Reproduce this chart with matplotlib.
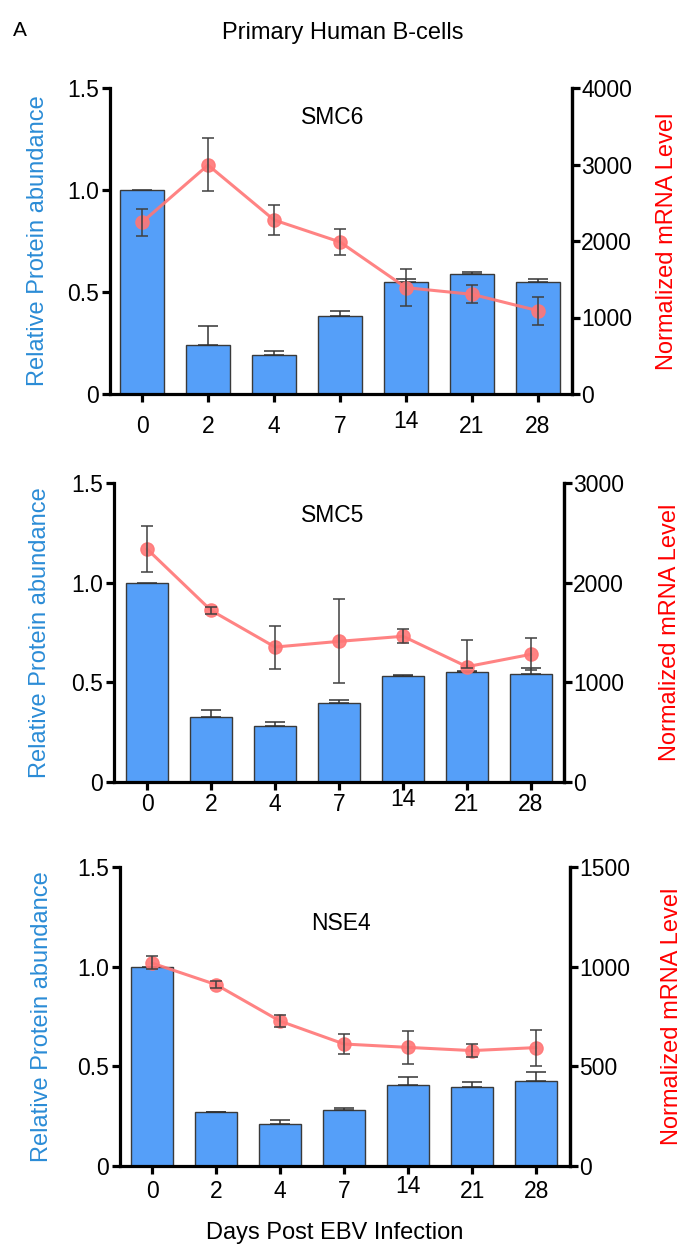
import matplotlib
matplotlib.use("Agg")
import matplotlib.pyplot as plt
import matplotlib.transforms as mtransforms
import numpy as np

plt.rcParams['font.family'] = ['Liberation Sans', 'DejaVu Sans']

days = ["0", "2", "4", "7", "14", "21", "28"]

# SMC6
smc6_protein = [1.0, 0.24, 0.19, 0.382, 0.549, 0.587, 0.551]
smc6_protein_err = [np.nan, 0.093, 0.02, 0.025, 0.013, 0.01, 0.011]
smc6_mrna = [2244, 2993, 2275, 1987, 1390, 1303, 1089]
smc6_mrna_lo = [2070, 2654, 2078, 1813, 1146, 1189, 902]
smc6_mrna_hi = [2423, 3342, 2471, 2161, 1630, 1420, 1268]

# SMC5
smc5_protein = [1.0, 0.325, 0.283, 0.398, 0.533, 0.553, 0.543]
smc5_protein_err = [np.nan, 0.035, 0.02, 0.015, 0.005, 0.002, 0.029]
smc5_mrna = [2338, 1722, 1354, 1411, 1462, 1157, 1281]
smc5_mrna_lo = [2110, 1689, 1134, 990, 1391, 1140, 1124]
smc5_mrna_hi = [2572, 1753, 1568, 1839, 1535, 1422, 1448]

# NSE4
nse4_protein = [1.0, 0.269, 0.211, 0.281, 0.406, 0.398, 0.425]
nse4_protein_err = [np.nan, 0.003, 0.02, 0.008, 0.039, 0.022, 0.045]
nse4_mrna = [1018, 910, 727, 612, 595, 579, 594]
nse4_mrna_lo = [990, 893, 699, 562, 512, 545, 503]
nse4_mrna_hi = [1055, 927, 756, 664, 679, 612, 682]

names = ["SMC6", "SMC5", "NSE4"]
proteins = [smc6_protein, smc5_protein, nse4_protein]
protein_errs = [smc6_protein_err, smc5_protein_err, nse4_protein_err]
mrnas = [smc6_mrna, smc5_mrna, nse4_mrna]
mrna_los = [smc6_mrna_lo, smc5_mrna_lo, nse4_mrna_lo]
mrna_his = [smc6_mrna_hi, smc5_mrna_hi, nse4_mrna_hi]
mrna_max = [4000, 3000, 1500]
mrna_step = [1000, 1000, 500]

W, H = 687, 1260
fig = plt.figure(figsize=(W / 100, H / 100), dpi=100)

# (left, right, top, bottom) in pixels
boxes = [(110, 572, 88, 394), (114, 564, 483, 782), (120, 570, 867, 1166)]
xlims = [(-0.485, 6.515), (-0.516, 6.516), (-0.5, 6.53)]
xpads = [9.0, 2.0, 4.3]
title_pos = [(333, 118), (333, 515), (341, 923)]
left_lab_x = [38, 40, 42]
right_lab_x = [667, 670, 672]

bar_color = '#559ff9'
line_color = '#ff7676'
blue_lab = '#2b8cd6'
spine_w = 2.3

for i in range(3):
    l, r, t, b = boxes[i]
    ax = fig.add_axes([l / W, 1 - b / H, (r - l) / W, (b - t) / H])
    x = np.arange(len(days))
    ax.bar(x, proteins[i], width=0.66, color=bar_color, edgecolor='#3a3a3a',
           linewidth=1.0, zorder=2)
    perr = np.array(protein_errs[i], dtype=float)
    ax.errorbar(x, proteins[i], yerr=[np.zeros(len(x)), perr], fmt='none',
                ecolor='#333333', elinewidth=1.1, capsize=7.5, capthick=1.1, zorder=3)
    ax.set_xlim(*xlims[i])
    ax.set_ylim(0, 1.5)
    ax.set_yticks([0, 0.5, 1.0, 1.5])
    ax.set_yticklabels(["0", "0.5", "1.0", "1.5"])
    ax.set_xticks(x)
    ax.set_xticklabels(days)
    ax.spines['top'].set_visible(False)
    for s in ['left', 'bottom', 'right']:
        ax.spines[s].set_linewidth(spine_w)
    ax.tick_params(axis='y', length=6, width=spine_w, labelsize=16.5, pad=2)
    ax.tick_params(axis='x', length=6, width=spine_w, labelsize=16.5, pad=xpads[i])
    for lab in ax.get_xticklabels():
        if lab.get_text() == "14":
            lab.set_transform(lab.get_transform() +
                              mtransforms.ScaledTranslation(0, 5 / 100, fig.dpi_scale_trans))

    ax2 = ax.twinx()
    m = np.array(mrnas[i], dtype=float)
    lo = m - np.array(mrna_los[i])
    hi = np.array(mrna_his[i]) - m
    ax2.plot(x, m, color=line_color, lw=2.2, marker='o', markersize=9.5,
             alpha=0.9, zorder=3)
    ax2.errorbar(x, m, yerr=[lo, hi], fmt='none', ecolor='#404040',
                 elinewidth=1.1, capsize=4.5, capthick=1.1, zorder=4)
    ax2.set_ylim(0, mrna_max[i])
    ax2.set_yticks(np.arange(0, mrna_max[i] + 1, mrna_step[i]))
    ax2.set_xlim(*xlims[i])
    for s in ['top', 'left', 'bottom']:
        ax2.spines[s].set_visible(False)
    ax2.spines['right'].set_linewidth(spine_w)
    ax2.tick_params(axis='y', length=6, width=spine_w, labelsize=16.5, pad=0.5)

    fig.text(title_pos[i][0] / W, 1 - title_pos[i][1] / H, names[i],
             ha='center', va='center', fontsize=16.5)
    fig.text(left_lab_x[i] / W, 1 - (t + b) / 2 / H, "Relative Protein abundance",
             rotation=90, ha='center', va='center', fontsize=17, color=blue_lab)
    fig.text(right_lab_x[i] / W, 1 - (t + b) / 2 / H, "Normalized mRNA Level",
             rotation=90, ha='center', va='center', fontsize=17, color='#ff0000')

fig.text(20 / W, 1 - 31 / H, "A", ha='center', va='center', fontsize=15)
fig.text(343 / W, 1 - 33 / H, "Primary Human B-cells", ha='center', va='center',
         fontsize=17)
fig.text(335 / W, 1 - 1233 / H, "Days Post EBV Infection", ha='center', va='center',
         fontsize=17)

fig.savefig("out.png", dpi=100)
